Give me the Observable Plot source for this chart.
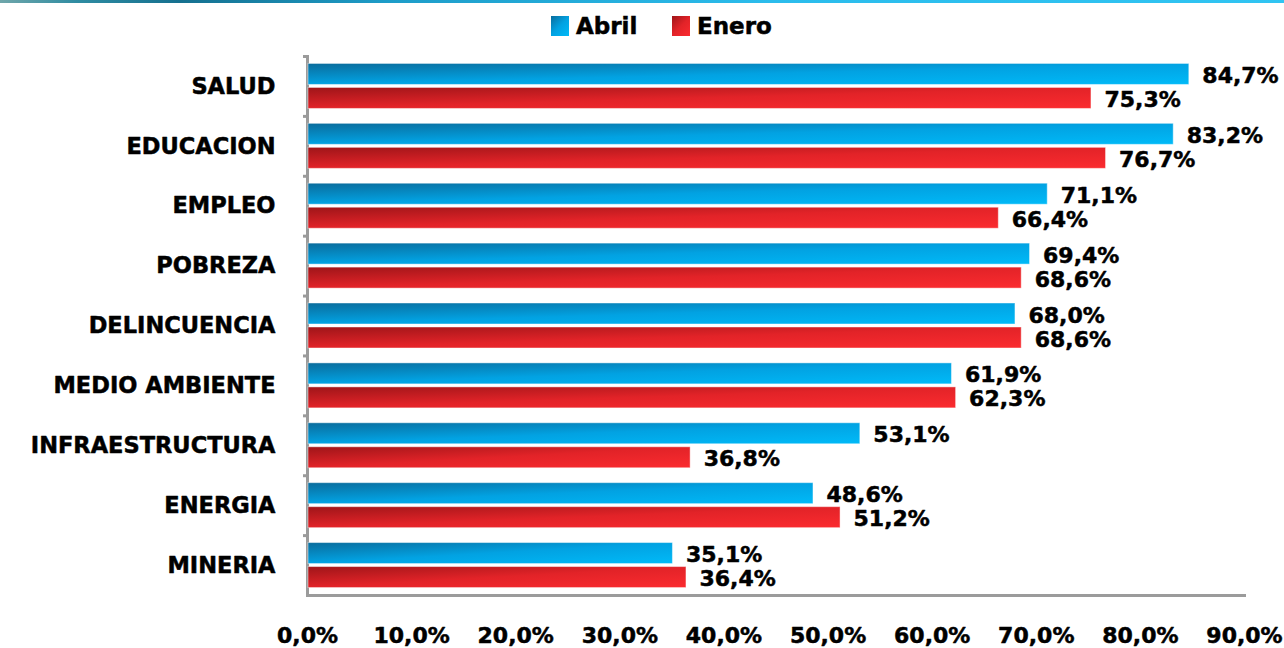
<!DOCTYPE html>
<html>
<head>
<meta charset="utf-8">
<script src="https://cdn.jsdelivr.net/npm/d3@7"></script>
<script src="https://cdn.jsdelivr.net/npm/@observablehq/plot@0.6"></script>
<style>
  html, body { margin: 0; padding: 0; background: #fff; width: 1284px; height: 648px; overflow: hidden; font-family: "DejaVu Sans", Verdana, sans-serif; }
  #topline { position: absolute; left: 0; top: 0; width: 1284px; height: 3px;
    background: linear-gradient(to right, #6fa6aa 0%, #2f8ca2 6%, #15708f 14%, #1d9cc8 30%, #2bbcec 60%, #30c4f2 100%); }
  #legend { position: relative; height: 48px; }
  .sw { position: absolute; top: 16px; width: 18px; height: 20px; }
  .lt { position: absolute; top: 15px; font-size: 23px; line-height: 23px; font-weight: bold; color: #000; -webkit-text-stroke: 0.5px #000; }
  #chart svg { display: block; }
</style>
</head>
<body>
<div id="topline"></div>
<div id="legend"></div>
<div id="chart"></div>
<script>
const categories = ["SALUD", "EDUCACION", "EMPLEO", "POBREZA", "DELINCUENCIA", "MEDIO AMBIENTE", "INFRAESTRUCTURA", "ENERGIA", "MINERIA"];
const series = ["Abril", "Enero"];
const abril = [84.7, 83.2, 71.1, 69.4, 68.0, 61.9, 53.1, 48.6, 35.1];
const enero = [75.3, 76.7, 66.4, 68.6, 68.6, 62.3, 36.8, 51.2, 36.4];
const xTicks = [0, 10, 20, 30, 40, 50, 60, 70, 80, 90];

const rows = [];
categories.forEach((c, i) => {
  rows.push({category: c, series: "Abril", value: abril[i]});
  rows.push({category: c, series: "Enero", value: enero[i]});
});
const fmt = v => v.toFixed(1).replace(".", ",") + "%";

// legend (HTML, above the SVG)
const legend = document.getElementById("legend");
const legendItems = [
  {name: "Abril", sw: 551, tx: 576, bg: "linear-gradient(135deg, #0a6c9c 0%, #02a2e2 50%, #00baf8 100%)"},
  {name: "Enero", sw: 672, tx: 697, bg: "linear-gradient(135deg, #9e1519 0%, #e22328 50%, #fb2b2f 100%)"}
];
legendItems.forEach(it => {
  const s = document.createElement("div");
  s.className = "sw"; s.style.left = it.sw + "px"; s.style.background = it.bg;
  legend.appendChild(s);
  const t = document.createElement("div");
  t.className = "lt"; t.style.left = it.tx + "px"; t.textContent = it.name;
  legend.appendChild(t);
});

const H = 600, MT = 8, MB = 53;
const band = (H - MT - MB) / categories.length;
const FONT = '"DejaVu Sans", Verdana, sans-serif';

const chart = Plot.plot({
  width: 1284,
  height: H,
  marginTop: MT,
  marginBottom: MB,
  marginLeft: 307,
  marginRight: 40,
  style: {fontFamily: FONT, color: "#000", background: "#fff", overflow: "visible"},
  x: {domain: [0, 90], axis: null},
  y: {domain: series, paddingInner: 0.125, paddingOuter: 0.31, round: false, axis: null},
  fy: {domain: categories, padding: 0, round: false, axis: null},
  marks: [
    Plot.frame({anchor: "left", stroke: "#9b9b9b", strokeWidth: 3}),
    Plot.frame({anchor: "bottom", fy: categories[categories.length - 1], stroke: "#9b9b9b", strokeWidth: 3}),
    Plot.axisFy({anchor: "left", tickSize: 4, fill: "none", stroke: "#9b9b9b", strokeWidth: 3, dy: -band / 2, label: null}),
    Plot.barX(rows.filter(d => d.series === "Abril"), {fy: "category", y: "series", x: "value", fill: "url(#gA)", stroke: "rgba(255,255,255,0.45)", strokeWidth: 1, insetLeft: 1}),
    Plot.barX(rows.filter(d => d.series === "Enero"), {fy: "category", y: "series", x: "value", fill: "url(#gE)", stroke: "rgba(255,255,255,0.45)", strokeWidth: 1, insetLeft: 1}),
    Plot.text(rows, {fy: "category", y: "series", x: "value", text: d => fmt(d.value), dx: 13, dy: 1.5, textAnchor: "start", fontSize: 22, fontWeight: "bold", fill: "#000", stroke: "#000", strokeWidth: 0.5}),
    Plot.axisFy({anchor: "left", tickSize: 0, tickPadding: 32, fontSize: 22.5, fontWeight: "bold", fill: "#000", textStroke: "#000", textStrokeWidth: 0.5, label: null}),
    Plot.axisX({anchor: "bottom", ticks: xTicks, tickFormat: fmt, tickSize: 0, tickPadding: 32, fontSize: 22, fontWeight: "bold", fill: "#000", textStroke: "#000", textStrokeWidth: 0.5, label: null})
  ]
});

document.getElementById("chart").appendChild(chart);
const svgEl = chart.tagName.toLowerCase() === "svg" ? chart : chart.querySelector("svg");
const defs = d3.select(svgEl).insert("defs", ":first-child");
function grad(id, stops) {
  const g = defs.append("linearGradient").attr("id", id)
    .attr("x1", 0).attr("y1", 0).attr("x2", 1).attr("y2", 1);
  stops.forEach(([o, c]) => g.append("stop").attr("offset", o).attr("stop-color", c));
}
grad("gA", [[0, "#0a6c9c"], [0.5, "#02a2e2"], [1, "#00baf8"]]);
grad("gE", [[0, "#9e1519"], [0.5, "#e22328"], [1, "#fb2b2f"]]);
</script>
</body>
</html>
